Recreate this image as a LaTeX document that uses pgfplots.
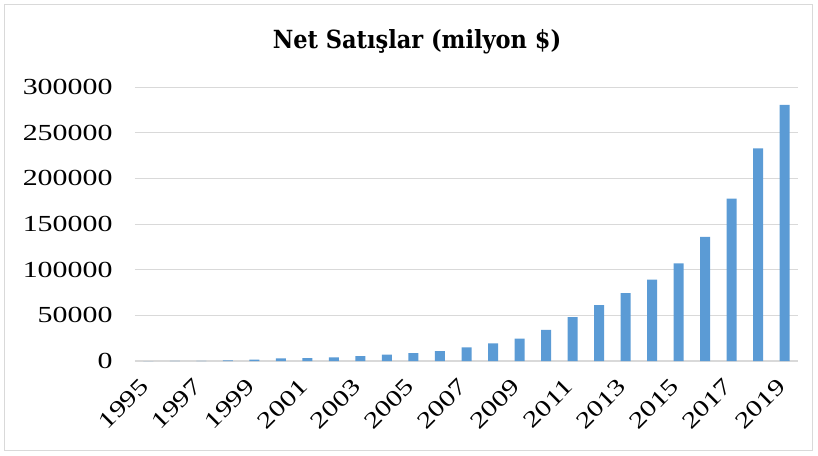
\documentclass[border=0pt]{standalone}
\usepackage{pgfplots}
\pgfplotsset{compat=1.18}
\usepackage{fontspec}
\setmainfont{Liberation Serif}
\newfontfamily\tickfont[FakeStretch=1.3]{Liberation Serif}
\newfontfamily\titlefont{DejaVu Serif Condensed}
\definecolor{barblue}{HTML}{5B9BD5}
\definecolor{gridgray}{HTML}{D9D9D9}
\begin{document}
\begin{tikzpicture}
\useasboundingbox (-135bp,-95bp) rectangle (683bp,361bp);
\draw[color=gridgray, line width=1bp] (-130bp,-89bp) rectangle (677bp,356bp);
\begin{axis}[
  scale only axis,
  width=663bp, height=274bp,
  xmin=1994.5, xmax=2019.5,
  ymin=0, ymax=300000,
  ytick={0,50000,100000,150000,200000,250000,300000},
  xtick={1995,1997,...,2019},
  scaled y ticks=false,
  axis x line*=bottom,
  axis y line*=left,
  y axis line style={draw=none},
  x axis line style={color=gridgray, line width=1.2bp},
  ymajorgrids,
  grid style={color=gridgray, line width=1bp},
  major tick length=0pt,
  /pgf/number format/assume math mode=true,
  /pgf/number format/fixed,
  /pgf/number format/set thousands separator={},
  yticklabel style={font=\tickfont\fontsize{23bp}{23bp}\selectfont, xshift=-19bp},
  yticklabel={\pgfmathprintnumber[fixed,set thousands separator={},precision=0]{\tick}},
  xticklabel style={font=\tickfont\fontsize{23bp}{23bp}\selectfont, rotate=45, anchor=north east, inner sep=0pt, xshift=-17.7bp, yshift=-5bp},
  xticklabel={\pgfmathprintnumber[fixed,set thousands separator={},precision=0]{\tick}},
  ybar, bar width=10bp,
  enlarge x limits=false,
]
\addplot[fill=barblue, draw=none] coordinates {
(1995,0.5) (1996,15.7) (1997,148) (1998,610) (1999,1640) (2000,2762)
(2001,3122) (2002,3933) (2003,5264) (2004,6921) (2005,8490) (2006,10711)
(2007,14835) (2008,19166) (2009,24509) (2010,34204) (2011,48077) (2012,61093)
(2013,74452) (2014,88988) (2015,107006) (2016,135987) (2017,177866) (2018,232887)
(2019,280522)};
\end{axis}
\node[font=\titlefont\bfseries\fontsize{25bp}{25bp}\selectfont] at (282bp,319bp) {Net Satışlar (milyon \$)};
\end{tikzpicture}
\end{document}
